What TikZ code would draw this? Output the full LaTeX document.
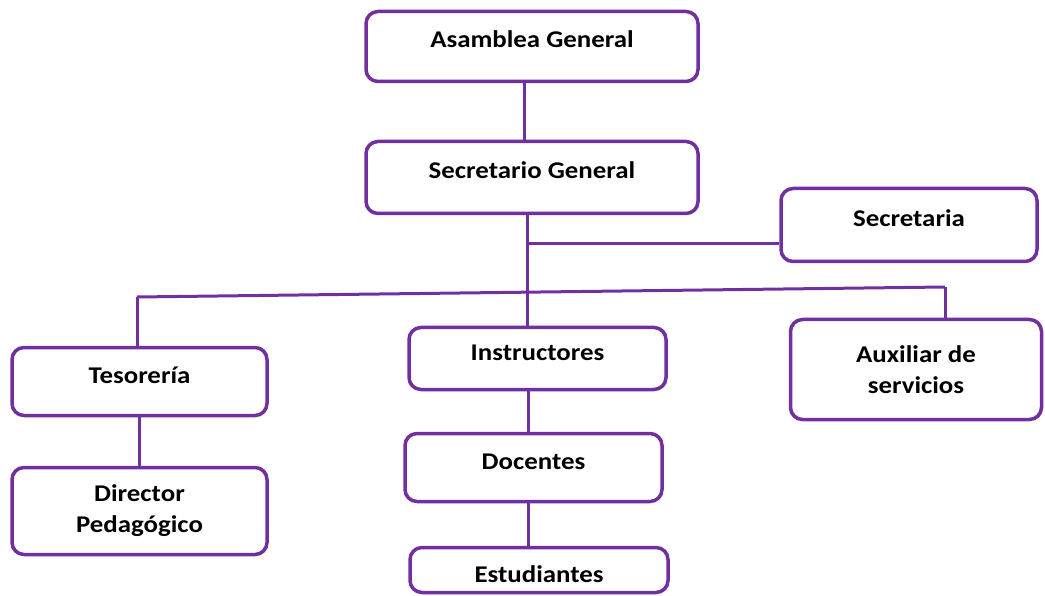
\documentclass[tikz,border=0pt]{standalone}
\usepackage{fontspec}
\setmainfont{Carlito}[FakeStretch=1.12]
\usepackage{tikz}
\usetikzlibrary{positioning}
\usepackage{xcolor}
\definecolor{orgpurple}{RGB}{112,48,160}

\begin{document}
\begin{tikzpicture}[x=1pt,y=1pt,node distance=130pt,on grid]
    \tikzstyle{unit}=[shape=rectangle,draw=orgpurple,line width=3.5pt,rounded corners=12pt,font=\fontsize{24}{31}\selectfont\bfseries]
    \tikzstyle{post}=[unit,text height=17pt,text depth=14pt]
    \tikzstyle{link}=[draw=orgpurple,line width=3pt]

    \useasboundingbox (0,0) rectangle (1045,-596);

    \node[post, minimum width=332pt, minimum height=70pt] (A0) at (532,-46.5) {Asamblea General};
    \node[post, minimum width=332pt, minimum height=72pt, below=131pt of A0] (A1) {Secretario General};
    \node[post, minimum width=256pt, minimum height=73pt, below right=47.5pt and 377pt of A1] (A2) {Secretaria};
    \node[post, minimum width=255pt, minimum height=68pt, below left=204pt and 392.5pt of A1] (B0) {Tesorería};
    \node[unit, align=center, minimum width=255pt, minimum height=87pt, below=129.5pt of B0] (C0) {Director\\Pedagógico};
    \node[post, minimum width=257pt, minimum height=62pt, below right=181pt and 5.5pt of A1] (B1) {Instructores};
    \node[post, minimum width=257pt, minimum height=68pt, below left=109pt and 4pt of B1] (C1) {Docentes};
    \node[post, text height=25pt, text depth=0pt, minimum width=258pt, minimum height=45pt, below right=102.5pt and 5.5pt of C1] (D1) {Estudiantes};
    \node[unit, align=center, minimum width=251pt, minimum height=100pt, below right=144.5pt and 7pt of A2] (B2) {Auxiliar de\\servicios};

    \coordinate (T) at ([xshift=-5pt]A1.south);
    \coordinate (S) at ([yshift=-19pt]A2.west);
    \coordinate (BL) at (137,-297);
    \coordinate (BR) at (945,-287);

    \path[link]
    ([xshift=-8pt]A0.south) edge ([xshift=-8pt]A1.north)
    (T) edge (T |- B1.north)
    (S -| T) edge (S)
    (BL) edge (BR)
    (BL) edge (BL |- B0.north)
    (BR) edge (BR |- B2.north)
    (B0) edge (C0)
    ([xshift=-9.5pt]B1.south) edge ([xshift=-9.5pt]B1.south |- C1.north)
    ([xshift=-5.5pt]C1.south) edge ([xshift=-5.5pt]C1.south |- D1.north)
    ;

\end{tikzpicture}
\end{document}
